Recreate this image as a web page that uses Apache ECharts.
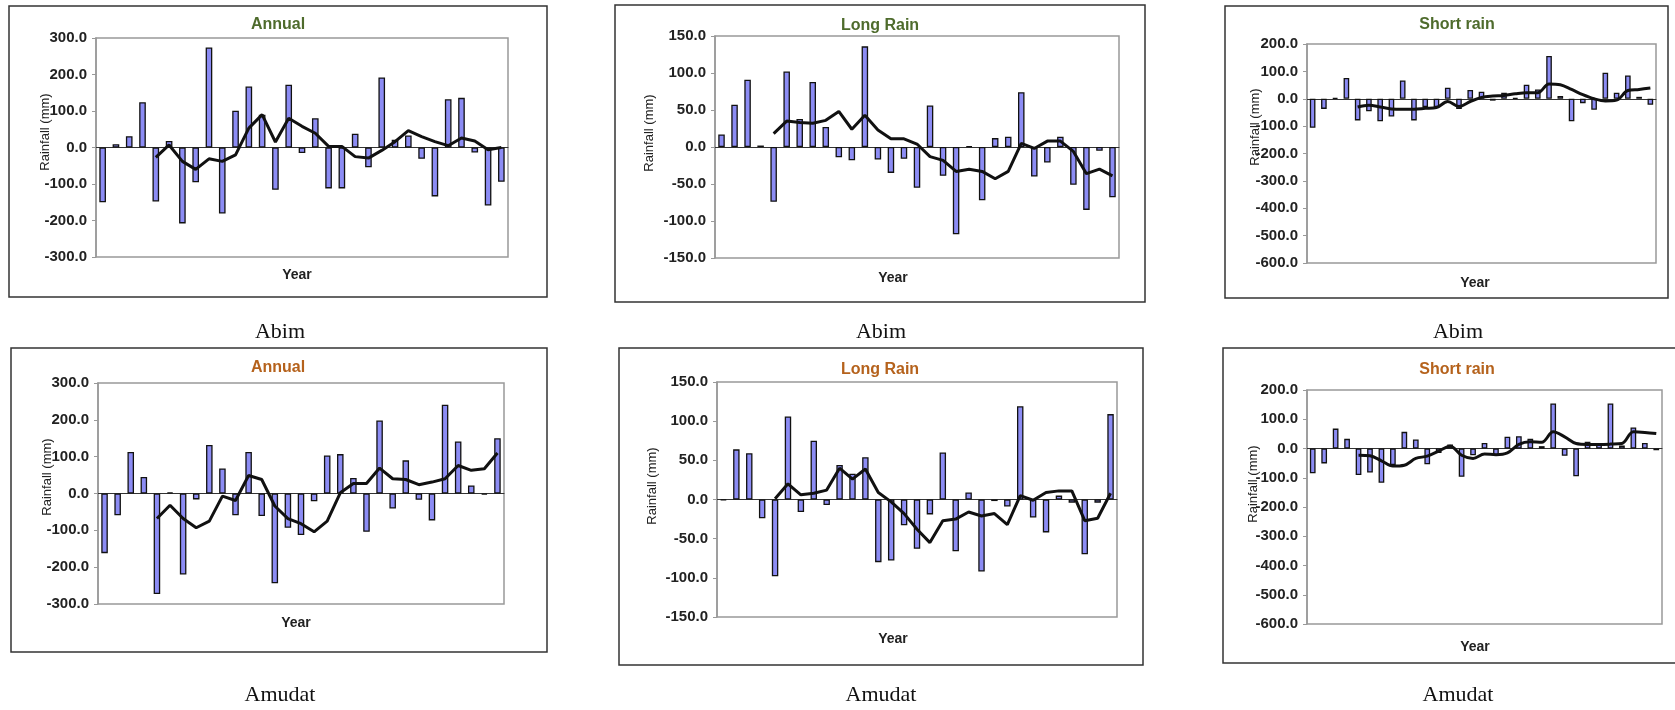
<!DOCTYPE html>
<html>
<head>
<meta charset="utf-8">
<script src="https://cdn.jsdelivr.net/npm/echarts@6/dist/echarts.min.js"></script>
<style>
  html, body { margin: 0; background: #fff; }
  #chart { width: 1675px; height: 710px; }
</style>
</head>
<body>
<div id="chart"></div>
<script>
  // categories (no labels are printed on the x axis)
  const years = ['1980', '1981', '1982', '1983', '1984', '1985', '1986', '1987', '1988', '1989',
    '1990', '1991', '1992', '1993', '1994', '1995', '1996', '1997', '1998', '1999',
    '2000', '2001', '2002', '2003', '2004', '2005', '2006', '2007', '2008', '2009', '2010']

  // Abim anomalies (mm) and 5-yr running mean
  const abimAnnual = [-150, 9, 31, 124, -148, 18, -208, -95, 274, -181, 101, 167, 90, -116, 172, -15,
    80, -112, -112, 38, -54, 192, 21, 33, -31, -134, 132, 136, -14, -159, -94]
  const abimAnnualTrend = [null, null, null, null, -27, 7, -38, -60, -31, -38, -20, 53, 90, 15, 80, 58,
    39, 3, 3, -25, -29, -8, 16, 46, 30, 16, 5, 26, 18, -6, 0]
  const abimLong = [17, 57, 91, 2, -74, 102, 38, 88, 27, -14, -18, 136, -17, -35, -16, -55,
    56, -39, -118, 1, -72, 12, 14, 74, -40, -21, 14, -51, -85, -5, -68]
  const abimLongTrend = [null, null, null, null, 18, 35, 33, 32, 36, 48, 24, 43, 23, 11, 11, 4,
    -13, -18, -33, -30, -33, -43, -33, 5, -2, 8, 8, -6, -36, -30, -39]
  const abimShort = [-106, -37, 3, 76, -79, -46, -82, -65, 67, -79, -30, -30, 40, -37, 32, 26,
    -7, 22, 3, 51, 34, 156, 10, -82, -16, -40, 95, 22, 85, 7, -22]
  const abimShortTrend = [null, null, null, null, -30, -24, -30, -37, -38, -38, -35, -32, -10, -28, -10, 5,
    10, 12, 18, 22, 22, 54, 51, 34, 15, 0, -8, -5, 30, 34, 39]

  // Amudat anomalies (mm) and 5-yr running mean
  const amudatAnnual = [-162, -59, 113, 45, -273, 3, -220, -16, 132, 68, -59, 113, -61, -244, -93, -113,
    -21, 103, 107, 42, -104, 198, -41, 90, -17, -73, 241, 141, 22, -3, 150]
  const amudatAnnualTrend = [null, null, null, null, -68, -32, -68, -93, -75, -7, -19, 49, 38, -34, -68, -82,
    -104, -75, 2, 27, 27, 69, 40, 38, 24, 31, 40, 76, 63, 67, 110]
  const amudatLong = [-1, 64, 59, -24, -98, 106, -16, 75, -7, 44, 33, 54, -80, -78, -33, -63,
    -19, 60, -66, 9, -92, -2, -9, 119, -23, -42, 5, -4, -70, -4, 109]
  const amudatLongTrend = [null, null, null, null, 1, 20, 6, 8, 12, 40, 26, 39, 9, -3, -18, -38,
    -55, -27, -25, -16, -21, -18, -32, 5, -1, 9, 11, 11, -27, -24, 8]
  const amudatShort = [-85, -51, 68, 33, -91, -82, -117, -57, 57, 31, -54, -15, 14, -97, -23, 19,
    -23, 40, 42, 33, 8, 154, -25, -95, 23, 14, 154, 10, 72, 19, -6]
  const amudatShortTrend = [null, null, null, null, -23, -25, -42, -60, -57, -34, -26, -9, 8, -23, -34, -19,
    -21, -15, 14, 23, 21, 57, 40, 17, 14, 14, 15, 17, 57, 55, 51]

  const green = '#4e6b2c'
  const brown = '#b5621c'
  const sans = '"Liberation Sans", Arial, sans-serif'

  const panels = [
    { title: 'Annual', color: green, place: 'Abim', bars: abimAnnual, trend: abimAnnualTrend, min: -300, max: 300, interval: 100, smooth: false,
      frame: [9, 6, 538, 291], plot: [96, 38, 412, 219], titleAt: [278, 27], yearAt: [297, 275], nameAt: [45, 132], placeAt: [280, 332] },
    { title: 'Long Rain', color: green, place: 'Abim', bars: abimLong, trend: abimLongTrend, min: -150, max: 150, interval: 50, smooth: false,
      frame: [615, 5, 530, 297], plot: [715, 36, 404, 222], titleAt: [880, 28], yearAt: [893, 278], nameAt: [649, 133], placeAt: [881, 332] },
    { title: 'Short rain', color: green, place: 'Abim', bars: abimShort, trend: abimShortTrend, min: -600, max: 200, interval: 100, smooth: 0.35,
      frame: [1225, 6, 443, 292], plot: [1307, 44, 349, 219], titleAt: [1457, 27], yearAt: [1475, 283], nameAt: [1255, 127], placeAt: [1458, 332] },
    { title: 'Annual', color: brown, place: 'Amudat', bars: amudatAnnual, trend: amudatAnnualTrend, min: -300, max: 300, interval: 100, smooth: false,
      frame: [11, 348, 536, 304], plot: [98, 383, 406, 221], titleAt: [278, 370], yearAt: [296, 623], nameAt: [47, 477], placeAt: [280, 695] },
    { title: 'Long Rain', color: brown, place: 'Amudat', bars: amudatLong, trend: amudatLongTrend, min: -150, max: 150, interval: 50, smooth: false,
      frame: [619, 348, 524, 317], plot: [717, 382, 400, 235], titleAt: [880, 372], yearAt: [893, 639], nameAt: [652, 486], placeAt: [881, 695] },
    { title: 'Short rain', color: brown, place: 'Amudat', bars: amudatShort, trend: amudatShortTrend, min: -600, max: 200, interval: 100, smooth: 0.35,
      frame: [1223, 348, 470, 315], plot: [1307, 390, 355, 234], titleAt: [1457, 372], yearAt: [1475, 647], nameAt: [1253, 484], placeAt: [1458, 695] }
  ]

  const chart = echarts.init(document.getElementById('chart'))

  const grid = [], xAxis = [], yAxis = [], series = [], title = [], graphic = []

  panels.forEach((p, i) => {
    grid.push({
      left: p.plot[0], top: p.plot[1], width: p.plot[2], height: p.plot[3],
      show: true, borderColor: '#999', borderWidth: 1.5, containLabel: false
    })
    xAxis.push({
      type: 'category', gridIndex: i, data: years,
      axisLine: { onZero: true, lineStyle: { color: '#333', width: 1 } },
      axisTick: { length: 3, lineStyle: { color: '#333' } },
      axisLabel: { show: false },
      splitLine: { show: false }
    })
    yAxis.push({
      type: 'value', gridIndex: i, min: p.min, max: p.max, interval: p.interval,
      axisLine: { show: true, lineStyle: { color: '#999', width: 1.5 } },
      axisTick: { show: true, length: 4, lineStyle: { color: '#999' } },
      axisLabel: {
        formatter: v => v.toFixed(1), color: '#222', fontWeight: 'bold',
        fontSize: 15, fontFamily: sans, margin: 9
      },
      splitLine: { show: false }
    })
    series.push({
      type: 'bar', xAxisIndex: i, yAxisIndex: i, data: p.bars, barWidth: '50%',
      itemStyle: { color: '#8c8cf4', borderColor: '#111', borderWidth: 1.3 }
    })
    series.push({
      type: 'line', xAxisIndex: i, yAxisIndex: i, data: p.trend, showSymbol: false,
      smooth: p.smooth, z: 3, lineStyle: { color: '#111', width: 3 }
    })
    title.push({
      text: p.title, left: p.titleAt[0], top: p.titleAt[1] - 10, textAlign: 'center', padding: 0,
      textStyle: { color: p.color, fontSize: 16, fontWeight: 'bold', fontFamily: sans }
    })

    graphic.push({
      type: 'rect', shape: { x: p.frame[0], y: p.frame[1], width: p.frame[2], height: p.frame[3] },
      style: { fill: 'none', stroke: '#333', lineWidth: 1.5 }
    })
    graphic.push({
      type: 'text', x: p.yearAt[0], y: p.yearAt[1],
      style: { text: 'Year', font: 'bold 14px ' + sans, fill: '#222', align: 'center', verticalAlign: 'middle' }
    })
    graphic.push({
      type: 'text', x: p.nameAt[0], y: p.nameAt[1], rotation: Math.PI / 2,
      style: { text: 'Rainfall (mm)', font: '13px ' + sans, fill: '#222', align: 'center', verticalAlign: 'middle' }
    })
    graphic.push({
      type: 'text', x: p.placeAt[0], y: p.placeAt[1],
      style: { text: p.place, font: '22px "Liberation Serif", serif', fill: '#111', align: 'center', verticalAlign: 'middle' }
    })
  })

  chart.setOption({
    animation: false,
    backgroundColor: '#fff',
    title,
    grid,
    xAxis,
    yAxis,
    series,
    graphic
  })
</script>
</body>
</html>
